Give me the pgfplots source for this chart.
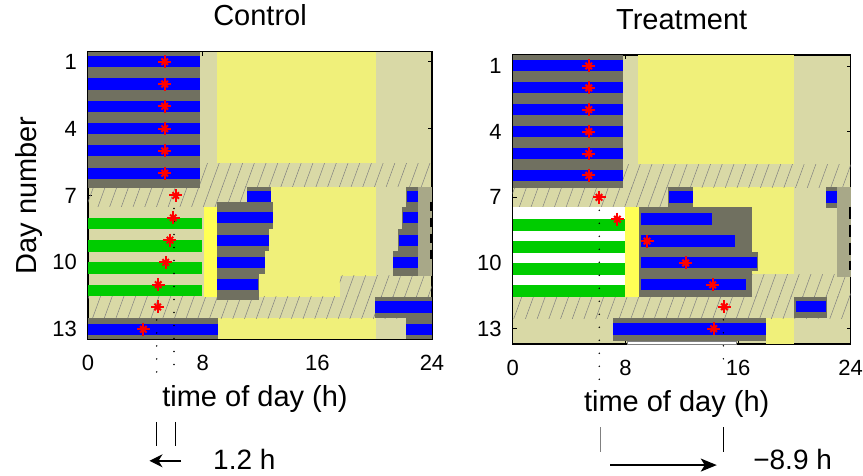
\documentclass[border=0pt]{standalone}
\usepackage{fontspec}
\setmainfont{Liberation Sans}
\usepackage{pgfplots}
\pgfplotsset{compat=1.18}
\usetikzlibrary{patterns.meta,arrows.meta}

\definecolor{beige}{RGB}{217,217,166}
\definecolor{paleyel}{RGB}{240,240,122}
\definecolor{brightyel}{RGB}{255,255,85}
\definecolor{dgray}{RGB}{112,112,96}
\definecolor{olivg}{RGB}{168,168,136}
\definecolor{mblue}{RGB}{0,0,255}
\definecolor{mgreen}{RGB}{0,204,0}

\newcommand{\rect}[5]{\addplot[draw=none,#5] coordinates {(#1,#3) (#2,#3) (#2,#4) (#1,#4)} -- cycle;}
\newcommand{\hatch}[4]{\addplot[draw=none,pattern={Lines[angle=70,distance=11pt,line width=0.5pt]},pattern color=black!50] coordinates {(#1,#3) (#2,#3) (#2,#4) (#1,#4)} -- cycle;}

\pgfplotsset{
  myax/.style={
    scale only axis, anchor=south west, clip=false,
    y dir=reverse, xmin=0, xmax=24,
    xtick={0,8,16,24}, ytick={1,4,7,10,13},
    tick align=inside, xtick pos=both, ytick pos=both,
    major tick length=4pt,
    axis line style={line width=1.1pt},
    every tick/.style={black, line width=0.8pt},
    axis background/.style={fill=beige},
    /pgf/number format/assume math mode=true,
    ticklabel style={font=\fontsize{22}{22}\selectfont},
    xticklabel style={anchor=base, yshift=-31pt, inner sep=0pt},
    yticklabel style={anchor=east, xshift=-11pt, inner sep=0pt},
    title style={font=\fontsize{29}{29}\selectfont, at={(axis description cs:0.5,1)}, anchor=base, yshift=20pt, inner sep=0pt},
    xlabel style={font=\fontsize{29}{29}\selectfont, at={(axis description cs:0.5,0)}, anchor=base, yshift=-67pt, xshift=-5pt, inner sep=0pt},
    xlabel={time of day (h)},
  },
  dots/.style={black, line width=1.7pt, line cap=round, dash pattern=on 0pt off 13pt},
  ast/.style={only marks, red, mark size=6.5pt, line width=2pt, mark options={solid, line width=2pt}},
  astx/.style={only marks, red, mark size=4.6pt, line width=2pt, mark options={solid, line width=2pt}},
}

\begin{document}
\begin{tikzpicture}
\useasboundingbox (0,0) rectangle (863pt,476pt);

% ================= CONTROL =================
\begin{axis}[myax, at={(88pt,136.7pt)}, width=344pt, height=287.6pt,
  ymin=0.55, ymax=13.45, title={Control},
  ylabel={Day number},
  ylabel style={font=\fontsize{29}{29}\selectfont, at={(axis description cs:-0.15,0.5)}, anchor=base, inner sep=0pt}]
% pale yellow (light)
\rect{9.0}{20.1}{0.55}{5.56}{fill=paleyel}
\rect{11.07}{20.1}{6.6}{10.6}{fill=paleyel}
\rect{9.03}{17.58}{10.6}{11.54}{fill=paleyel}
\rect{9.1}{20.1}{12.5}{13.45}{fill=paleyel}
% hatched transition
\hatch{7.8}{24}{5.56}{6.6}
\hatch{0}{11.07}{6.6}{7.5}
\hatch{17.58}{24}{10.6}{11.54}
\hatch{0}{24}{11.54}{12.5}
% green bars
\rect{0}{7.97}{8.0}{8.52}{fill=mgreen}
\rect{0}{7.97}{9.0}{9.52}{fill=mgreen}
\rect{0}{7.97}{10.0}{10.52}{fill=mgreen}
\rect{0}{7.97}{11.0}{11.52}{fill=mgreen}
\rect{8.12}{9.03}{7.5}{11.54}{fill=brightyel}
% grey blocks
\rect{0}{7.8}{0.55}{6.65}{fill=dgray}
\rect{11.07}{12.74}{6.6}{7.5}{fill=dgray}
\rect{9.03}{12.89}{7.28}{8.5}{fill=dgray}
\rect{9.03}{12.66}{8.5}{9.5}{fill=dgray}
\rect{9.03}{12.38}{9.5}{10.5}{fill=dgray}
\rect{9.03}{11.96}{10.5}{11.69}{fill=dgray}
\rect{22.17}{23.05}{6.6}{7.5}{fill=dgray}
\rect{21.9}{23.05}{7.5}{8.5}{fill=dgray}
\rect{21.6}{23.05}{8.5}{9.5}{fill=dgray}
\rect{21.26}{23.05}{9.5}{10.6}{fill=dgray}
\rect{23.05}{24}{6.6}{10.6}{fill=olivg}
\rect{20.0}{24}{11.54}{12.5}{fill=dgray}
\rect{0}{9.1}{12.5}{13.45}{fill=dgray}
\rect{22.17}{24}{12.5}{13.45}{fill=dgray}
% blue bars
\rect{0}{7.8}{0.75}{1.25}{fill=mblue}
\rect{0}{7.8}{1.75}{2.25}{fill=mblue}
\rect{0}{7.8}{2.75}{3.25}{fill=mblue}
\rect{0}{7.8}{3.75}{4.25}{fill=mblue}
\rect{0}{7.8}{4.75}{5.25}{fill=mblue}
\rect{0}{7.8}{5.75}{6.25}{fill=mblue}
\rect{11.07}{12.74}{6.78}{7.27}{fill=mblue}
\rect{22.28}{23.05}{6.78}{7.27}{fill=mblue}
\rect{9.03}{12.89}{7.75}{8.25}{fill=mblue}
\rect{22.0}{23.05}{7.75}{8.25}{fill=mblue}
\rect{9.03}{12.66}{8.75}{9.25}{fill=mblue}
\rect{21.73}{23.05}{8.75}{9.25}{fill=mblue}
\rect{9.03}{12.38}{9.75}{10.25}{fill=mblue}
\rect{21.3}{23.05}{9.75}{10.25}{fill=mblue}
\rect{9.03}{11.89}{10.75}{11.25}{fill=mblue}
\rect{20.0}{24}{11.75}{12.25}{fill=mblue}
\rect{0}{9.1}{12.75}{13.25}{fill=mblue}
\rect{22.17}{24}{12.75}{13.25}{fill=mblue}
% dashed right edge
\addplot[black, line width=2pt, dash pattern=on 9pt off 7pt] coordinates {(23.92,7.28) (23.92,9.93)};
% onset markers
\addplot[ast, mark=+] coordinates {(5.35,1) (5.35,2) (5.35,3) (5.35,4) (5.35,5) (5.35,6) (6.12,7) (5.95,8) (5.72,9) (5.42,10) (4.9,11) (4.86,12) (3.86,13)};
\addplot[astx, mark=x] coordinates {(5.35,1) (5.35,2) (5.35,3) (5.35,4) (5.35,5) (5.35,6) (6.12,7) (5.95,8) (5.72,9) (5.42,10) (4.9,11) (4.86,12) (3.86,13)};
% dotted phase lines
\addplot[dots] coordinates {(6.0,7) (6.0,15.05)};
\addplot[dots] coordinates {(4.79,12) (4.79,15.05)};
% phase shift annotation
\addplot[black, line width=0.8pt] coordinates {(4.8,17.15) (4.8,18.24)};
\addplot[black, line width=0.8pt] coordinates {(6.1,17.15) (6.1,18.24)};
\addplot[black, line width=1.4pt, -{Stealth[length=13pt,width=13pt,inset=4pt]}] coordinates {(6.5,18.9) (4.29,18.9)};
\node[anchor=base west, font=\fontsize{28}{28}\selectfont, inner sep=0pt] at (axis cs:8.72,19.28) {1.2 h};
\end{axis}

% ================= TREATMENT =================
\begin{axis}[myax, at={(512.7pt,132pt)}, width=338pt, height=289pt,
  ymin=0.5, ymax=13.7, title={Treatment}]
% pale yellow
\rect{8.92}{20.0}{0.5}{5.49}{fill=paleyel}
\rect{12.83}{20.0}{6.55}{10.52}{fill=paleyel}
\rect{17.97}{20.0}{12.52}{13.7}{fill=paleyel}
% hatched
\hatch{7.81}{24}{5.49}{6.56}
\hatch{0}{11.05}{6.56}{7.45}
\hatch{17.02}{24}{10.52}{11.54}
\hatch{0}{24}{11.54}{12.52}
% white + green
\rect{0}{7.95}{7.45}{11.54}{fill=white}
\rect{0}{7.97}{8.0}{8.55}{fill=mgreen}
\rect{0}{7.97}{9.0}{9.55}{fill=mgreen}
\rect{0}{7.97}{10.0}{10.55}{fill=mgreen}
\rect{0}{7.97}{11.0}{11.54}{fill=mgreen}
\rect{7.97}{8.97}{7.45}{11.54}{fill=brightyel}
% grey blocks
\rect{0}{7.81}{0.5}{6.56}{fill=dgray}
\rect{11.05}{12.83}{6.55}{7.45}{fill=dgray}
\rect{8.97}{17.02}{7.45}{11.54}{fill=dgray}
\rect{8.97}{17.4}{9.5}{10.35}{fill=dgray}
\rect{22.25}{23.05}{6.55}{7.5}{fill=dgray}
\rect{23.05}{24}{6.55}{10.63}{fill=olivg}
\rect{20.0}{22.3}{11.54}{12.52}{fill=dgray}
\rect{7.1}{17.97}{12.52}{13.56}{fill=dgray}
\addplot[draw=gray, fill=white, line width=0.4pt] coordinates {(8.1,13.58) (15.9,13.58) (15.9,13.7) (8.1,13.7)} -- cycle;
% blue bars
\rect{0}{7.81}{0.75}{1.25}{fill=mblue}
\rect{0}{7.81}{1.75}{2.25}{fill=mblue}
\rect{0}{7.81}{2.75}{3.25}{fill=mblue}
\rect{0}{7.81}{3.75}{4.25}{fill=mblue}
\rect{0}{7.81}{4.75}{5.25}{fill=mblue}
\rect{0}{7.81}{5.75}{6.25}{fill=mblue}
\rect{11.12}{12.83}{6.72}{7.25}{fill=mblue}
\rect{22.25}{23.0}{6.72}{7.25}{fill=mblue}
\rect{9.09}{14.13}{7.72}{8.25}{fill=mblue}
\rect{9.09}{15.8}{8.72}{9.25}{fill=mblue}
\rect{9.09}{17.33}{9.72}{10.25}{fill=mblue}
\rect{9.09}{16.6}{10.72}{11.25}{fill=mblue}
\rect{20.1}{22.25}{11.75}{12.25}{fill=mblue}
\rect{7.1}{17.97}{12.75}{13.3}{fill=mblue}
% dashed right edge
\addplot[black, line width=2pt, dash pattern=on 12pt off 6pt] coordinates {(23.92,7.43) (23.92,10.32)};
% onset markers
\addplot[ast, mark=+] coordinates {(5.4,1) (5.4,2) (5.4,3) (5.4,4) (5.4,5) (5.4,6) (6.13,7) (7.43,8) (9.54,9) (12.28,10) (14.2,11) (15.03,12) (14.27,13)};
\addplot[astx, mark=x] coordinates {(5.4,1) (5.4,2) (5.4,3) (5.4,4) (5.4,5) (5.4,6) (6.13,7) (7.43,8) (9.54,9) (12.28,10) (14.2,11) (15.03,12) (14.27,13)};
% dotted phase lines
\addplot[dots] coordinates {(6.15,7) (6.15,15.42)};
\addplot[dots] coordinates {(14.96,12) (14.96,14.74)};
% phase shift annotation
\addplot[gray, line width=0.6pt] coordinates {(6.2,17.51) (6.2,18.62)};
\addplot[black, line width=1pt] coordinates {(14.96,17.51) (14.96,18.62)};
\addplot[black, line width=1.4pt, -{Stealth[length=16pt,width=13pt,inset=4pt]}] coordinates {(6.91,19.23) (14.49,19.23)};
\node[anchor=base west, font=\fontsize{28}{28}\selectfont, inner sep=0pt] at (axis cs:17.07,19.43) {−8.9 h};
\end{axis}
\end{tikzpicture}
\end{document}
